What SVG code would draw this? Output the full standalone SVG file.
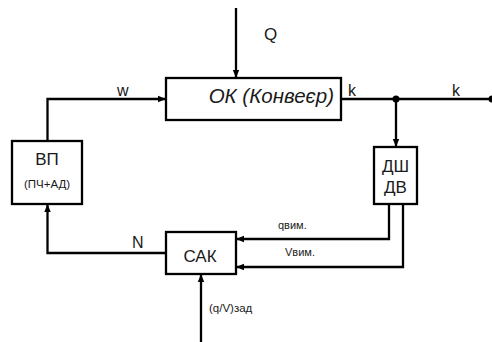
<svg xmlns="http://www.w3.org/2000/svg" width="492" height="342" viewBox="0 0 492 342">
<style>
.box{fill:#fff;stroke:#000;stroke-width:2.3}
.ln{fill:none;stroke:#000;stroke-width:2.3}
text{font-family:"Liberation Sans",Arial,sans-serif;fill:#1a1a1a}
</style>
<defs>
<marker id="ar" viewBox="0 0 10 10" refX="10" refY="5" markerWidth="8" markerHeight="8" markerUnits="userSpaceOnUse" orient="auto">
<path d="M0,1 L10,5 L0,9 Z" fill="#000"/>
</marker>
</defs>
<rect width="492" height="342" fill="#fff"/>
<g id="connectors">
<path class="ln" d="M236,8 V78" marker-end="url(#ar)"/>
<path class="ln" d="M47.5,141 V99 H166" marker-end="url(#ar)"/>
<path class="ln" d="M341,99 H492"/>
<circle cx="396" cy="99" r="3.5" fill="#000"/>
<circle cx="492" cy="99" r="3.5" fill="#000"/>
<path class="ln" d="M396,99 V147" marker-end="url(#ar)"/>
<path class="ln" d="M389,204 V239 H236" marker-end="url(#ar)"/>
<path class="ln" d="M403,204 V267 H236" marker-end="url(#ar)"/>
<path class="ln" d="M166,253 H47.5 V204" marker-end="url(#ar)"/>
<path class="ln" d="M201,342 V274" marker-end="url(#ar)"/>
<text x="264" y="40" font-size="17">Q</text>
<text x="117" y="96" font-size="16">w</text>
<text x="348" y="96" font-size="16">k</text>
<text x="452" y="96" font-size="16">k</text>
<text x="132" y="248" font-size="16">N</text>
<text x="278" y="229" font-size="11">qвим.</text>
<text x="285" y="256" font-size="11">Vвим.</text>
<text x="209" y="312" font-size="11.5">(q/V)зад</text>
</g>
<g id="ok">
<rect class="box" x="166" y="78" width="175" height="42"/>
<text x="334" y="103" font-size="20.5" font-style="italic" text-anchor="end">ОК (Конвеєр)</text>
</g>
<g id="vp">
<rect class="box" x="12" y="141" width="70" height="63"/>
<text x="47" y="165" font-size="17" text-anchor="middle">ВП</text>
<text x="47" y="188" font-size="11.5" text-anchor="middle">(ПЧ+АД)</text>
</g>
<g id="dsh">
<rect class="box" x="374" y="147" width="43" height="57"/>
<text x="395.5" y="172" font-size="17" text-anchor="middle">ДШ</text>
<text x="395.5" y="193" font-size="17" text-anchor="middle">ДВ</text>
</g>
<g id="sak">
<rect class="box" x="166" y="232" width="70" height="42"/>
<text x="200" y="262" font-size="17" text-anchor="middle">САК</text>
</g>
</svg>
